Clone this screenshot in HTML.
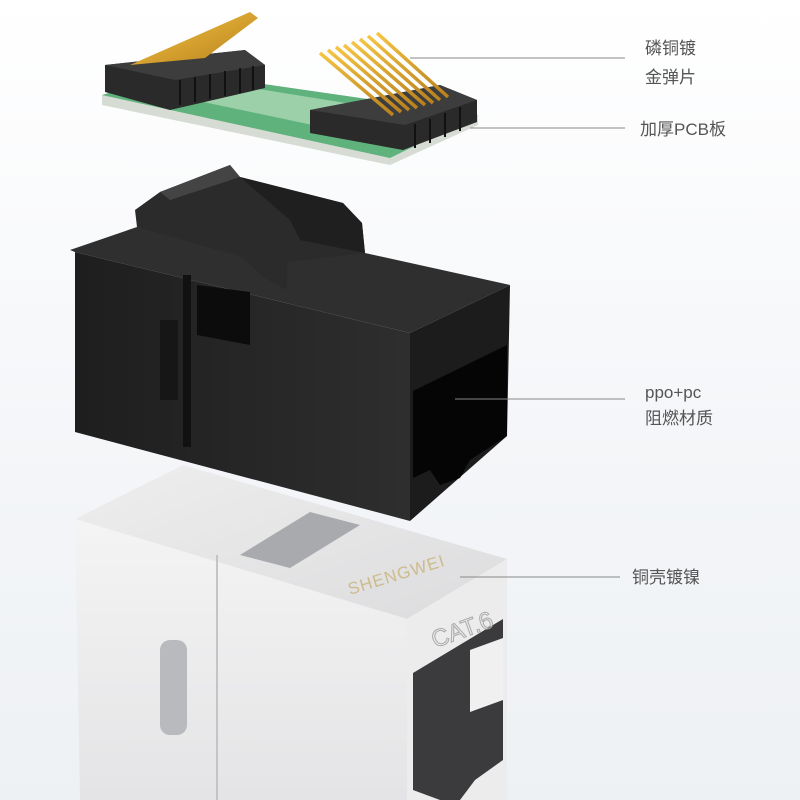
<!DOCTYPE html>
<html><head><meta charset="utf-8"><style>
html,body{margin:0;padding:0}
body{width:800px;height:800px;overflow:hidden;background:linear-gradient(#ffffff,#f3f5f8 60%,#eef1f4);position:relative;font-family:"Liberation Sans","Noto Sans CJK SC",sans-serif}
.t{position:absolute;color:#555;font-size:17px;line-height:25px}
</style></head><body>
<svg width="800" height="800" style="position:absolute;left:0;top:0">
<defs>
<linearGradient id="sf" x1="0" y1="0" x2="0" y2="1"><stop offset="0" stop-color="#f4f4f4"/><stop offset="1" stop-color="#e4e4e6"/></linearGradient>
<linearGradient id="st" x1="0" y1="0" x2="1" y2="1"><stop offset="0" stop-color="#eeeeee"/><stop offset="1" stop-color="#dcdcde"/></linearGradient>
<linearGradient id="gd" x1="0" y1="0" x2="1" y2="1"><stop offset="0" stop-color="#f5c542"/><stop offset="1" stop-color="#b8801e"/></linearGradient>
<linearGradient id="bf" x1="0" y1="0" x2="1" y2="0"><stop offset="0" stop-color="#1e1e1e"/><stop offset="1" stop-color="#2e2e2e"/></linearGradient>
</defs>
<!-- PCB -->
<polygon points="102,95 180,72 478,115 478,125 390,165 102,105" fill="#d6dbd4"/>
<polygon points="102,95 180,72 478,115 390,158" fill="#5fb27c"/>
<polygon points="170,95 215,82 420,115 360,135" fill="#9bd0a8"/>
<!-- left header -->
<polygon points="105,65 245,50 265,65 265,88 170,110 105,92" fill="#2a2a2a"/>
<polygon points="105,65 245,50 265,65 175,80" fill="#3d3d3d"/>
<g stroke="#111" stroke-width="2"><line x1="180" y1="80" x2="180" y2="105"/><line x1="195" y1="77" x2="195" y2="102"/><line x1="210" y1="74" x2="210" y2="99"/><line x1="225" y1="71" x2="225" y2="96"/><line x1="240" y1="68" x2="240" y2="93"/><line x1="253" y1="66" x2="253" y2="90"/></g>
<polygon points="130,65 250,12 258,18 205,58" fill="url(#gd)"/>
<!-- right header -->
<polygon points="310,110 440,85 477,100 477,122 403,150 310,133" fill="#2a2a2a"/>
<polygon points="310,110 440,85 477,100 405,125" fill="#3d3d3d"/>
<g stroke="#111" stroke-width="2"><line x1="415" y1="124" x2="415" y2="148"/><line x1="430" y1="119" x2="430" y2="143"/><line x1="445" y1="113" x2="445" y2="137"/><line x1="460" y1="107" x2="460" y2="131"/></g>
<g stroke="url(#gd)" stroke-width="3.5">
<line x1="320" y1="53" x2="393" y2="115"/><line x1="328" y1="50" x2="401" y2="112"/><line x1="336" y1="47" x2="409" y2="110"/><line x1="344" y1="45" x2="417" y2="108"/><line x1="352" y1="42" x2="425" y2="105"/><line x1="360" y1="39" x2="433" y2="103"/><line x1="368" y1="36" x2="440" y2="100"/><line x1="377" y1="33" x2="448" y2="97"/></g>
<!-- black block -->
<polygon points="70,250 137,227 365,253 510,285 410,333 75,252" fill="#2f2f2f"/>
<polygon points="75,252 410,333 410,521 75,432" fill="url(#bf)"/>
<polygon points="410,333 510,285 507,436 410,521" fill="#1c1c1c"/>
<polygon points="413,391 507,345 507,436 470,460 460,478 440,485 430,470 413,478" fill="#050505"/>
<polygon points="135,210 160,192 230,165 240,177 343,203 362,223 365,253 287,262 287,290 263,277 242,257 137,227" fill="#2b2b2b"/>
<polygon points="240,177 343,203 362,223 365,253 300,240 290,220" fill="#1f1f1f"/>
<polygon points="160,192 230,165 240,177 170,200" fill="#444"/>
<rect x="183" y="275" width="8" height="172" fill="#111"/>
<rect x="160" y="320" width="18" height="80" fill="#161616"/>
<polygon points="197,285 250,292 250,345 197,335" fill="#0c0c0c"/>
<!-- silver block -->
<polygon points="75,519 183,465 507,559 407,619" fill="url(#st)"/>
<polygon points="75,519 407,619 407,800 80,800" fill="url(#sf)"/>
<polygon points="407,619 507,559 507,800 407,800" fill="#ececed"/>
<polygon points="240,555 310,512 360,525 290,568" fill="#a8aaad"/>
<line x1="217" y1="555" x2="217" y2="800" stroke="#c4c4c6" stroke-width="2"/>
<rect x="160" y="640" width="27" height="95" rx="10" fill="#b9babd"/>
<polygon points="413,673 503,619 503,760 475,780 460,800 440,800 413,790" fill="#3b3b3d"/>
<polygon points="470,650 503,638 503,700 470,712" fill="#f0f0f0"/>
<text x="350" y="595" transform="rotate(-17 350 595)" font-family="Liberation Sans" font-size="17" fill="#cdbb8c" letter-spacing="1">SHENGWEI</text>
<text x="435" y="648" transform="rotate(-20 435 648)" font-family="Liberation Sans" font-size="24" fill="none" stroke="#aaa" stroke-width="1">CAT.6</text>
<!-- leader lines -->
<g stroke="#888" stroke-width="1">
<line x1="410" y1="58" x2="625" y2="58"/>
<line x1="470" y1="128" x2="625" y2="128"/>
<line x1="455" y1="399" x2="625" y2="399"/>
<line x1="460" y1="577" x2="620" y2="577"/>
</g>
</svg>
<div class="t" style="left:645px;top:36px">磷铜镀</div>
<div class="t" style="left:645px;top:65px">金弹片</div>
<div class="t" style="left:640px;top:117px">加厚PCB板</div>
<div class="t" style="left:645px;top:380px">ppo+pc</div>
<div class="t" style="left:645px;top:406px">阻燃材质</div>
<div class="t" style="left:632px;top:565px">铜壳镀镍</div>
</body></html>
